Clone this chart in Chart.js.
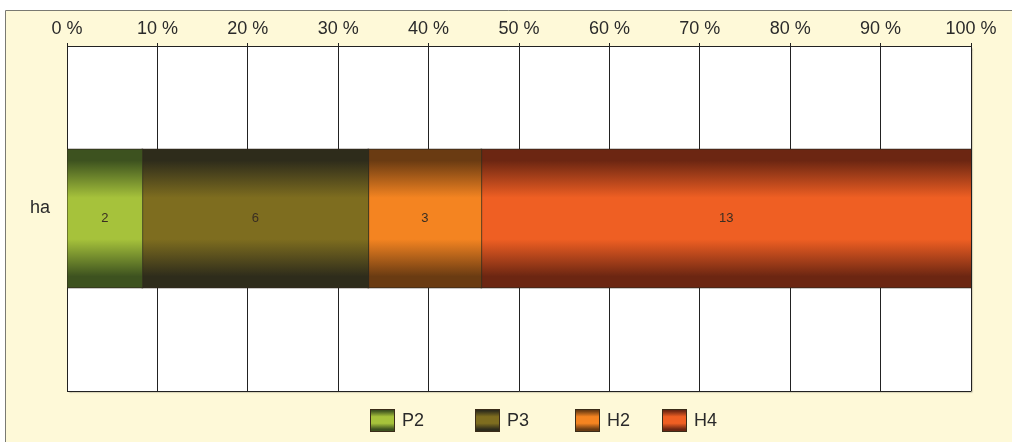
<!DOCTYPE html>
<html>
<head>
<meta charset="utf-8">
<script src="https://cdn.jsdelivr.net/npm/chart.js@4/dist/chart.umd.min.js"></script>
<style>
  html, body { margin: 0; padding: 0; background: #ffffff; }
  #wrap { width: 1012px; height: 442px; }
</style>
</head>
<body>
<div id="wrap"><canvas id="c" width="1012" height="442"></canvas></div>
<script>
// Data
const categories = ['ha'];
const seriesNames = ['P2', 'P3', 'H2', 'H4'];
const seriesValues = [[2], [6], [3], [13]];
const tickLabels = ['0 %', '10 %', '20 %', '30 %', '40 %', '50 %', '60 %', '70 %', '80 %', '90 %', '100 %'];

// Styling
const edgeColors = ['#3d521f', '#2e2c1b', '#6a3b12', '#6c2612'];
const midColors = ['#a6c23b', '#7e6d1f', '#f48421', '#ef5f23'];
const FONT = "'Liberation Sans', Arial, Helvetica, sans-serif";
const legendX = [370, 475, 575, 662];

// Per-category totals for the 100 % stacking
const totals = categories.map((_, j) => seriesValues.reduce((s, arr) => s + arr[j], 0));
const percentOf = (arr) => arr.map((v, j) => v / totals[j] * 100);

function bandGradient(ctx, top, bottom, i) {
  const g = ctx.createLinearGradient(0, top, 0, bottom);
  g.addColorStop(0, edgeColors[i]);
  g.addColorStop(0.08, edgeColors[i]);
  g.addColorStop(0.35, midColors[i]);
  g.addColorStop(0.65, midColors[i]);
  g.addColorStop(0.92, edgeColors[i]);
  g.addColorStop(1, edgeColors[i]);
  return g;
}

const BAR_FRACTION = 0.8 * 0.5;

function barFill(context) {
  const chart = context.chart;
  const i = context.datasetIndex;
  const area = chart.chartArea;
  if (!area) return midColors[i];
  const yScale = chart.scales.y;
  const center = yScale.getPixelForValue(context.dataIndex);
  const half = (area.bottom - area.top) / categories.length * BAR_FRACTION / 2;
  return bandGradient(chart.ctx, center - half, center + half, i);
}

// Cream panel, framed plot area with a soft shadow
const panelPlugin = {
  id: 'panel',
  beforeDraw(chart) {
    const { ctx, chartArea: a } = chart;
    ctx.save();
    ctx.fillStyle = '#ffffff';
    ctx.fillRect(0, 0, chart.width, chart.height);
    ctx.fillStyle = '#fef9d8';
    ctx.fillRect(6, 10, chart.width - 6, chart.height - 10);
    ctx.strokeStyle = '#7a7a72';
    ctx.lineWidth = 1;
    ctx.beginPath();
    ctx.moveTo(5.5, chart.height);
    ctx.lineTo(5.5, 10.5);
    ctx.lineTo(chart.width, 10.5);
    ctx.stroke();
    ctx.shadowColor = 'rgba(0,0,0,0.45)';
    ctx.shadowOffsetX = 1.5;
    ctx.shadowOffsetY = 1.5;
    ctx.shadowBlur = 1.5;
    ctx.fillStyle = '#ffffff';
    ctx.fillRect(a.left, a.top, a.right - a.left, a.bottom - a.top);
    ctx.restore();
  }
};

// Value labels centred in each segment
const valueLabelPlugin = {
  id: 'valueLabels',
  afterDatasetsDraw(chart) {
    const ctx = chart.ctx;
    ctx.save();
    ctx.font = '13px ' + FONT;
    ctx.fillStyle = '#3a2e22';
    ctx.textAlign = 'center';
    ctx.textBaseline = 'middle';
    chart.data.datasets.forEach((ds, i) => {
      const meta = chart.getDatasetMeta(i);
      meta.data.forEach((el, j) => {
        const p = el.getCenterPoint();
        ctx.fillText(String(seriesValues[i][j]), p.x, p.y);
      });
    });
    ctx.restore();
  }
};

// Legend row under the plot
const legendPlugin = {
  id: 'legendRow',
  afterDraw(chart) {
    const ctx = chart.ctx;
    const top = 409, w = 24, h = 22;
    ctx.save();
    seriesNames.forEach((name, i) => {
      const x = legendX[i];
      ctx.fillStyle = bandGradient(ctx, top, top + h, i);
      ctx.fillRect(x, top, w, h);
      ctx.strokeStyle = '#3a2c18';
      ctx.lineWidth = 1;
      ctx.strokeRect(x + 0.5, top + 0.5, w, h);
      ctx.fillStyle = '#2a2a2a';
      ctx.font = '18px ' + FONT;
      ctx.textAlign = 'left';
      ctx.textBaseline = 'middle';
      ctx.fillText(name, x + 32, top + h / 2 + 1);
    });
    ctx.restore();
  }
};

new Chart(document.getElementById('c'), {
  type: 'bar',
  data: {
    labels: categories,
    datasets: seriesNames.map((name, i) => ({
      label: name,
      data: percentOf(seriesValues[i]),
      backgroundColor: barFill,
      borderColor: '#2f271c',
      borderWidth: 1,
      borderSkipped: false,
      inflateAmount: 1,
      categoryPercentage: 0.8,
      barPercentage: 0.5
    }))
  },
  options: {
    indexAxis: 'y',
    responsive: false,
    devicePixelRatio: 1,
    animation: false,
    layout: { padding: { left: 0, top: 0, right: 41, bottom: 51 } },
    plugins: {
      legend: { display: false },
      tooltip: { enabled: false }
    },
    scales: {
      x: {
        position: 'top',
        stacked: true,
        min: 0,
        max: 100,
        afterFit(s) { s.height = 46; },
        ticks: {
          stepSize: 10,
          padding: 3,
          color: '#2a2a2a',
          font: { family: FONT, size: 18 },
          callback: (v) => tickLabels[Math.round(v / 10)]
        },
        grid: { color: '#222222', lineWidth: 1, drawTicks: true, tickLength: 3 },
        border: { display: true, color: '#222222' }
      },
      y: {
        stacked: true,
        afterFit(s) { s.width = 67; },
        ticks: {
          padding: 17,
          labelOffset: -10,
          color: '#2a2a2a',
          font: { family: FONT, size: 18 }
        },
        grid: { color: '#222222', lineWidth: 1, drawTicks: false, offset: true },
        border: { display: true, color: '#222222' }
      }
    }
  },
  plugins: [panelPlugin, valueLabelPlugin, legendPlugin]
});
</script>
</body>
</html>
